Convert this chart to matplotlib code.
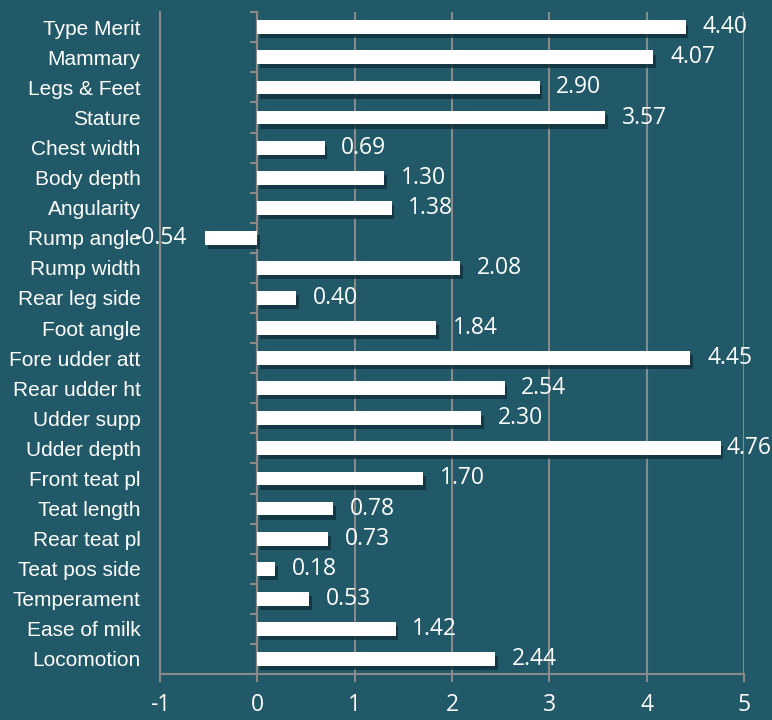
import matplotlib.pyplot as plt
import matplotlib.patheffects as pe
import numpy as np

# Data
traits = [
    "Type Merit", "Mammary", "Legs & Feet", "Stature", "Chest width",
    "Body depth", "Angularity", "Rump angle", "Rump width", "Rear leg side",
    "Foot angle", "Fore udder att", "Rear udder ht", "Udder supp",
    "Udder depth", "Front teat pl", "Teat length", "Rear teat pl",
    "Teat pos side", "Temperament", "Ease of milk", "Locomotion",
]
values = [
    4.40, 4.07, 2.90, 3.57, 0.69,
    1.30, 1.38, -0.54, 2.08, 0.40,
    1.84, 4.45, 2.54, 2.30,
    4.76, 1.70, 0.78, 0.73,
    0.18, 0.53, 1.42, 2.44,
]
x_ticks = [-1, 0, 1, 2, 3, 4, 5]

BG = "#215968"
GRID = "#8a8a8a"

fig = plt.figure(figsize=(7.72, 7.2), dpi=100, facecolor=BG)
ax = fig.add_axes([0.2073, 0.0639, 0.7564, 0.9191], facecolor=BG)

y = np.arange(len(traits))
bars = ax.barh(y, values, height=0.46, color="white", zorder=3)
for b in bars:
    b.set_path_effects([pe.SimplePatchShadow(offset=(2, -3), shadow_rgbFace="#10303a", alpha=0.8),
                        pe.Normal()])

for yi, v in zip(y, values):
    if v >= 0:
        # labels near the right edge get squeezed in, like Excel does
        off = 4 if v > 4.6 else 12
        ax.annotate(f"{v:.2f}", (v, yi), xytext=(off, 0), textcoords="offset points",
                    ha="left", va="center", color="white", fontsize=16.5,
                    family="Open Sans", zorder=4)
    else:
        ax.annotate(f"{v:.2f}", (v, yi), xytext=(-13, 0), textcoords="offset points",
                    ha="right", va="center", color="white", fontsize=16.5,
                    family="Open Sans", zorder=4)

ax.set_xlim(-1, 5)
ax.set_ylim(len(traits) - 0.5, -0.5)
ax.set_xticks(x_ticks)
ax.set_xticklabels([str(t) for t in x_ticks], family="Open Sans", fontsize=16.5, color="white")
ax.set_yticks(y)
ax.set_yticklabels(traits, family="Liberation Sans", fontsize=15, color="white")

ax.tick_params(axis="y", length=0, pad=14)
ax.tick_params(axis="x", length=6, width=1.5, color=GRID, pad=8, direction="out")

ax.grid(axis="x", color=GRID, linewidth=1.5, zorder=0)
ax.set_axisbelow(True)
for side in ["top", "right"]:
    ax.spines[side].set_visible(False)
for side in ["left", "bottom"]:
    ax.spines[side].set_color(GRID)
    ax.spines[side].set_linewidth(1.5)

# category axis drawn at x = 0 with ticks between categories
sec = ax.secondary_yaxis(1 / 6)
sec.set_yticks(np.arange(len(traits) + 1) - 0.5)
sec.set_yticklabels([])
sec.tick_params(axis="y", length=5, width=1.5, color=GRID, direction="out")
sec.spines["right"].set_visible(False)
sec.spines["left"].set_color(GRID)
sec.spines["left"].set_linewidth(1.5)
sec.yaxis.set_ticks_position("left")

fig.savefig("out.png", dpi=100, facecolor=BG)
